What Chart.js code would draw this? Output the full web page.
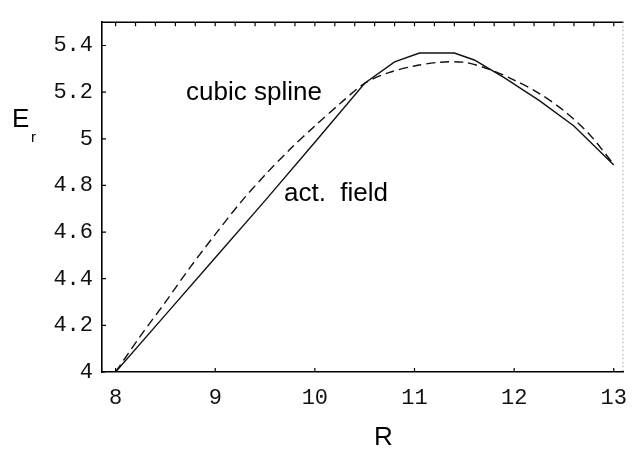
<!DOCTYPE html>
<html>
<head>
<meta charset="utf-8">
<script src="https://cdn.jsdelivr.net/npm/chart.js@4/dist/chart.umd.min.js"></script>
<style>
  html, body { margin: 0; padding: 0; background: #fff; }
  #wrap { width: 640px; height: 449px; }
</style>
</head>
<body>
<div id="wrap"><canvas id="c" width="640" height="449"></canvas></div>
<script>
// Radial field E_r versus R: computed field and its cubic-spline fit
const actR = [8.0, 8.5, 9.0, 9.5, 10.0, 10.5, 10.8, 11.05, 11.4, 11.6, 11.9, 12.25, 12.6, 13.0];
const actE = [4.0, 4.245, 4.49, 4.735, 4.985, 5.238, 5.33, 5.368, 5.368, 5.338, 5.262, 5.165, 5.055, 4.888];

const splineR = [8.0, 8.25, 8.5, 8.75, 9.0, 9.25, 9.5, 9.75, 10.0, 10.25, 10.5, 10.75, 11.0, 11.25, 11.5, 11.75, 12.0, 12.25, 12.5, 12.75, 13.0];
const splineE = [4.0, 4.155, 4.30, 4.45, 4.59, 4.725, 4.845, 4.955, 5.055, 5.15, 5.238, 5.285, 5.312, 5.328, 5.328, 5.298, 5.252, 5.195, 5.12, 5.022, 4.89];

const xTicks = [8, 9, 10, 11, 12, 13];
const yTicks = [4, 4.2, 4.4, 4.6, 4.8, 5, 5.2, 5.4];
const topTicks = [];
for (let i = 0; i <= 25; i++) topTicks.push(8 + i * 0.2);

const labels = [
  { text: 'cubic spline', x: 186, y: 100, size: 26 },
  { text: 'act.  field',  x: 284, y: 201, size: 26 },
  { text: 'E', x: 12, y: 127, size: 26 },
  { text: 'r', x: 31, y: 142, size: 15 },
  { text: 'R', x: 374, y: 445, size: 26 }
];

const toPts = (xs, ys) => xs.map((x, i) => ({ x: x, y: ys[i] }));

const frame = {
  id: 'frame',
  afterDraw(chart) {
    const { ctx, chartArea: a, scales: { x, y } } = chart;
    ctx.save();
    ctx.strokeStyle = '#000';
    ctx.lineWidth = 1.2;
    // inward ticks on the bottom axis
    ctx.beginPath();
    xTicks.forEach(v => { const px = x.getPixelForValue(v); ctx.moveTo(px, a.bottom); ctx.lineTo(px, a.bottom - 4); });
    // inward ticks on the left axis
    yTicks.forEach(v => { const py = y.getPixelForValue(v); ctx.moveTo(a.left, py); ctx.lineTo(a.left + 4, py); });
    ctx.stroke();
    // top frame with small ticks
    ctx.lineWidth = 1.6;
    ctx.beginPath();
    ctx.moveTo(a.left, a.top); ctx.lineTo(a.right, a.top);
    ctx.stroke();
    ctx.lineWidth = 1.2;
    ctx.beginPath();
    topTicks.forEach(v => { const px = x.getPixelForValue(v); if (px > a.left + 2 && px < a.right - 1) { ctx.moveTo(px, a.top); ctx.lineTo(px, a.top + 4); } });
    ctx.stroke();
    // dotted right frame
    ctx.strokeStyle = '#777';
    ctx.lineWidth = 1;
    ctx.setLineDash([1, 3]);
    ctx.beginPath();
    ctx.moveTo(a.right - 0.5, a.top); ctx.lineTo(a.right - 0.5, a.bottom);
    ctx.stroke();
    ctx.setLineDash([]);
    // annotations and axis titles
    ctx.fillStyle = '#000';
    ctx.textBaseline = 'alphabetic';
    ctx.textAlign = 'left';
    labels.forEach(l => {
      ctx.font = l.size + 'px "Liberation Sans", Arial, sans-serif';
      ctx.fillText(l.text, l.x, l.y);
    });
    ctx.restore();
  }
};

const tickFont = { family: '"Liberation Mono", "Courier New", monospace', size: 22 };

new Chart(document.getElementById('c'), {
  type: 'scatter',
  data: {
    datasets: [
      {
        label: 'act. field',
        data: toPts(actR, actE),
        showLine: true,
        borderColor: '#111',
        borderWidth: 1.4,
        pointRadius: 0,
        tension: 0
      },
      {
        label: 'cubic spline',
        data: toPts(splineR, splineE),
        showLine: true,
        borderColor: '#111',
        borderWidth: 1.4,
        borderDash: [9, 5],
        pointRadius: 0,
        tension: 0.3
      }
    ]
  },
  options: {
    responsive: false,
    animation: false,
    events: [],
    layout: { padding: { left: 0, right: 1, top: 11, bottom: 0 } },
    plugins: { legend: { display: false }, tooltip: { enabled: false } },
    scales: {
      x: {
        type: 'linear',
        min: 7.8635,
        max: 13.097,
        afterBuildTicks(s) { s.ticks = xTicks.map(v => ({ value: v })); },
        afterFit(s) { s.height = 77; },
        grid: { display: false, drawTicks: false },
        border: { display: true, color: '#000', width: 1.6 },
        ticks: { font: tickFont, color: '#111', padding: 13, maxRotation: 0, autoSkip: false,
                 callback: v => String(v) }
      },
      y: {
        type: 'linear',
        min: 4,
        max: 5.5,
        afterBuildTicks(s) { s.ticks = yTicks.map(v => ({ value: v })); },
        afterFit(s) { s.width = 102; },
        grid: { display: false, drawTicks: false },
        border: { display: true, color: '#000', width: 1.6 },
        ticks: { font: tickFont, color: '#111', padding: 9, autoSkip: false,
                 callback: v => (Number.isInteger(v) ? String(v) : v.toFixed(1)) }
      }
    }
  },
  plugins: [frame]
});
</script>
</body>
</html>
